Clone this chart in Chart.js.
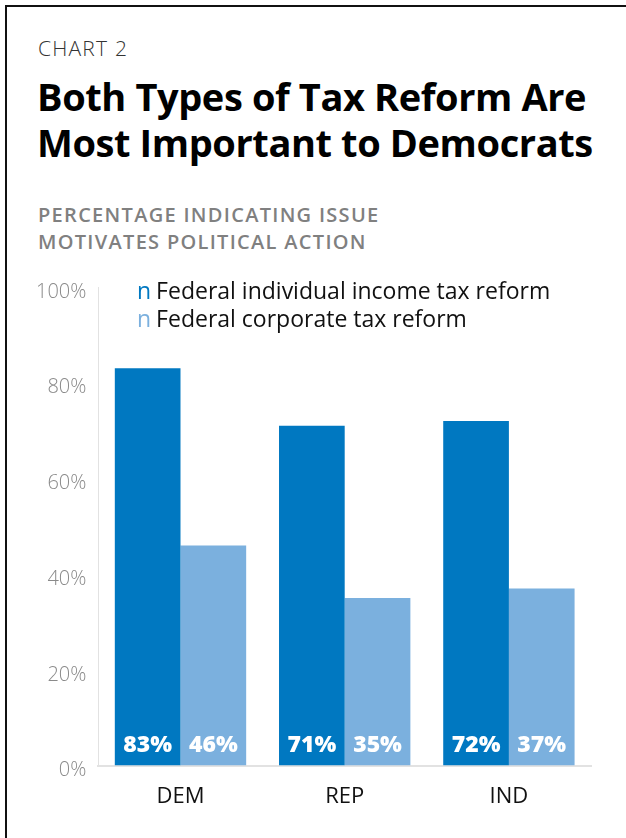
<!DOCTYPE html>
<html>
<head>
<meta charset="utf-8">
<script src="https://cdn.jsdelivr.net/npm/chart.js@4"></script>
<style>
  html, body { margin: 0; padding: 0; background: #fff; }
  body { width: 626px; height: 838px; position: relative; overflow: hidden; font-family: "Open Sans", sans-serif; }
  .frame { position: absolute; left: 5px; top: 5px; width: 620px; height: 840px; border-left: 2px solid #111; border-top: 2px solid #111; }
  .kicker { position: absolute; left: 38px; top: 34px; font-size: 21px; font-weight: 300; color: #333; letter-spacing: 1.2px; }
  .title { position: absolute; left: 37px; top: 73px; font-size: 38px; font-weight: 700; line-height: 46px; color: #000; letter-spacing: -0.4px; }
  .sub { position: absolute; left: 38px; top: 201px; font-size: 20px; font-weight: 600; line-height: 27px; color: #808080; letter-spacing: 1.3px; }
  .legend { position: absolute; left: 137px; top: 276px; font-size: 23px; line-height: 28px; color: #111; }
  .legend span { margin-right: 5px; }
  #wrap { position: absolute; left: 0; top: 263px; width: 626px; height: 575px; }
</style>
</head>
<body>
<div class="frame"></div>
<div class="kicker">CHART 2</div>
<div class="title">Both Types of Tax Reform Are<br>Most Important to Democrats</div>
<div class="sub">PERCENTAGE INDICATING ISSUE<br>MOTIVATES POLITICAL ACTION</div>
<div id="wrap"><canvas id="c"></canvas></div>
<div class="legend" id="legend"></div>
<script>
const groups = ['DEM', 'REP', 'IND'];
const seriesNames = ['Federal individual income tax reform', 'Federal corporate tax reform'];
const incomeTax = [83, 71, 72];
const corporateTax = [46, 35, 37];
const yTicks = [0, 20, 40, 60, 80, 100];
const colors = ['#0078c1', '#7bb0de'];

// legend uses the "n" glyph as its swatch, coloured per series
document.getElementById('legend').innerHTML = seriesNames.map((n, i) =>
  '<div><span style="color:' + colors[i] + '">n</span>' + n + '</div>').join('');

// value labels sit at the foot of each bar
const barLabels = {
  id: 'barLabels',
  afterDatasetsDraw(chart) {
    const ctx = chart.ctx;
    ctx.save();
    ctx.font = '800 23px "Open Sans", sans-serif';
    ctx.fillStyle = '#fff';
    ctx.textAlign = 'center';
    ctx.textBaseline = 'middle';
    chart.data.datasets.forEach((ds, i) => {
      chart.getDatasetMeta(i).data.forEach((bar, j) => {
        ctx.fillText(ds.data[j] + '%', bar.x, bar.base - 20);
      });
    });
    ctx.restore();
  }
};

new Chart(document.getElementById('c'), {
  type: 'bar',
  data: {
    labels: groups,
    datasets: [
      { label: seriesNames[0], data: incomeTax, backgroundColor: colors[0], categoryPercentage: 0.8, barPercentage: 1.0 },
      { label: seriesNames[1], data: corporateTax, backgroundColor: colors[1], categoryPercentage: 0.8, barPercentage: 1.0 }
    ]
  },
  options: {
    responsive: true,
    maintainAspectRatio: false,
    animation: false,
    layout: { padding: { top: 4, right: 35, bottom: 10, left: 24 } },
    plugins: { legend: { display: false }, tooltip: { enabled: false } },
    scales: {
      x: {
        grid: { display: false, drawTicks: false },
        border: { display: true, color: '#e2e2e2', width: 2 },
        ticks: { color: '#111', font: { family: 'Open Sans', size: 22 }, padding: 18 }
      },
      y: {
        min: 0, max: 100,
        afterBuildTicks(axis) { axis.ticks = yTicks.map(v => ({ value: v })); },
        grid: { display: false, drawTicks: false },
        border: { display: true, color: '#e2e2e2', width: 1 },
        ticks: { color: '#8a8a8a', font: { family: 'Open Sans', size: 20, weight: 300 }, padding: 12, labelOffset: 5, callback: v => v + '%' }
      }
    }
  },
  plugins: [barLabels]
});
</script>
</body>
</html>
